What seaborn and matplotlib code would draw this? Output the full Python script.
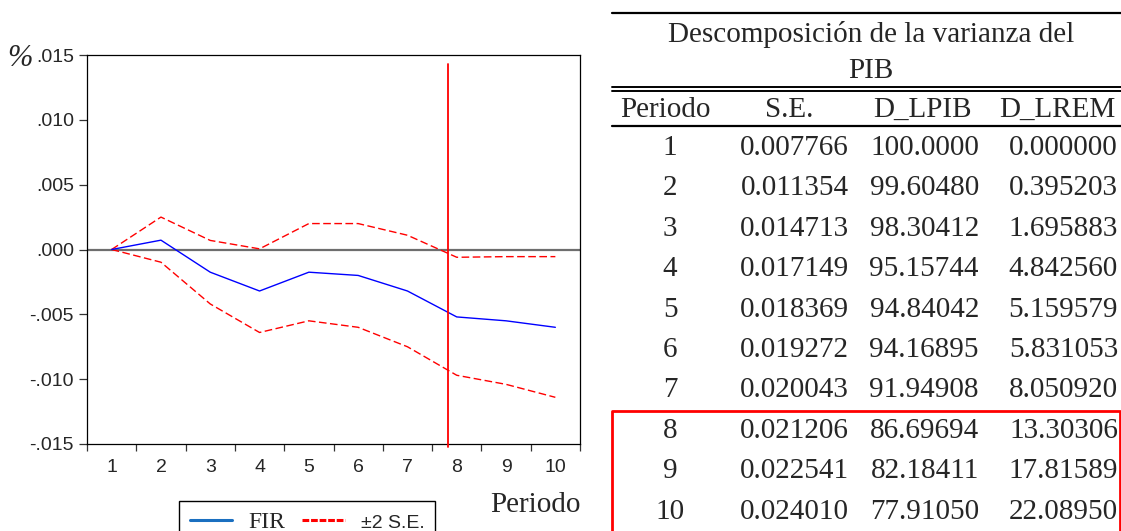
# libraries
import matplotlib
matplotlib.use("Agg")
import matplotlib.pyplot as plt
from matplotlib.lines import Line2D
import seaborn as sns
import numpy as np

# impulse response data
periodo = [1, 2, 3, 4, 5, 6, 7, 8, 9, 10]
fir = [0.0, 0.00072, -0.00175, -0.0032, -0.00175, -0.0020, -0.0032, -0.0052, -0.0055, -0.0060]
banda_sup = [0.0, 0.0025, 0.0007, 0.00005, 0.0020, 0.0020, 0.0011, -0.0006, -0.00055, -0.00055]
banda_inf = [0.0, -0.00098, -0.0042, -0.0064, -0.0055, -0.0060, -0.0075, -0.0097, -0.0104, -0.0114]
corte = 7.83
yticks = [-0.015, -0.010, -0.005, 0.0, 0.005, 0.010, 0.015]
ytick_labels = ["-.015", "-.010", "-.005", ".000", ".005", ".010", ".015"]

# variance decomposition table
titulo = ["Descomposición de la varianza del", "PIB"]
columnas = ["Periodo", "S.E.", "D_LPIB", "D_LREM"]
se = ["0.007766", "0.011354", "0.014713", "0.017149", "0.018369",
      "0.019272", "0.020043", "0.021206", "0.022541", "0.024010"]
d_lpib = ["100.0000", "99.60480", "98.30412", "95.15744", "94.84042",
          "94.16895", "91.94908", "86.69694", "82.18411", "77.91050"]
d_lrem = ["0.000000", "0.395203", "1.695883", "4.842560", "5.159579",
          "5.831053", "8.050920", "13.30306", "17.81589", "22.08950"]

sns.set_style("ticks")
serif = ["Liberation Serif", "DejaVu Serif"]
narrow = ["Liberation Sans Narrow", "Liberation Sans", "DejaVu Sans"]

W, H = 1121, 531
fig = plt.figure(figsize=(W / 100, H / 100), dpi=100)

def fx(px):
    return px / W

def fy(py):
    return 1 - py / H

# chart
ax = fig.add_axes([fx(87), fy(444), fx(580) - fx(87), fy(55) - fy(444)])
ax.axhline(0, color="#6e6e6e", lw=1.6, zorder=1)
sns.lineplot(x=periodo, y=banda_sup, ax=ax, color="#ff0000", lw=1.0, linestyle=(0, (5.5, 2.5)), legend=False)
sns.lineplot(x=periodo, y=banda_inf, ax=ax, color="#ff0000", lw=1.0, linestyle=(0, (5.5, 2.5)), legend=False)
sns.lineplot(x=periodo, y=fir, ax=ax, color="#0000ff", lw=1.0, legend=False)
ax.plot([corte, corte], [0.0143, -0.0152], color="#ff0000", lw=1.3, clip_on=False, zorder=5)

ax.set_xlim(0.5, 10.5)
ax.set_ylim(-0.015, 0.015)
ax.set_xticks(periodo)
ax.set_xticks(np.arange(0.5, 11, 1), minor=True)
ax.set_yticks(yticks)
ax.set_yticklabels(ytick_labels)
ax.tick_params(axis="x", which="major", length=0, pad=11)
ax.tick_params(axis="x", which="minor", length=5, width=0.9, direction="out", color="#333333")
ax.tick_params(axis="y", which="major", length=5.5, width=0.9, direction="out", pad=4, color="#333333")
for lab in ax.get_xticklabels() + ax.get_yticklabels():
    lab.set_family(narrow)
    lab.set_fontsize(14)
for s in ax.spines.values():
    s.set_color("black")
    s.set_linewidth(0.9)
ax.set_xlabel("")
ax.set_ylabel("")

fig.text(fx(20), fy(58), "%", family=serif, style="italic", fontsize=22, ha="center", va="center")
fig.text(fx(581), fy(505), "Periodo", family=serif, fontsize=21, ha="right", va="center")

# legend
handles = [Line2D([], [], color="#1a6fc0", lw=2.2),
           Line2D([], [], color="#ff0000", lw=2.2, linestyle=(0, (2.2, 0.6)))]
leg = ax.legend(handles, ["FIR", "±2 S.E."], ncol=2, loc="upper left",
                bbox_to_anchor=(fx(179), fy(501)), bbox_transform=fig.transFigure,
                borderaxespad=0, frameon=True, fancybox=False, edgecolor="black",
                framealpha=1, handlelength=1.8, handletextpad=0.7, columnspacing=0.7,
                borderpad=0.45, prop={"family": serif, "size": 17})
leg.get_frame().set_linewidth(1.0)
leg.get_texts()[1].set_family(narrow)
leg.get_texts()[1].set_fontsize(14)

# table
tsize = 21
for i, t in enumerate(titulo):
    fig.text(fx(871), fy(35 + 36 * i), t, family=serif, fontsize=tsize, ha="center", va="center")

def hline(y, x0, x1, lw, color="black"):
    fig.add_artist(Line2D([fx(x0), fx(x1)], [fy(y), fy(y)], color=color, lw=lw, transform=fig.transFigure))

hline(13, 612, 1121, 1.6)
hline(86.5, 612, 1121, 1.4)
hline(90.5, 612, 1121, 1.4)
hline(126, 612, 1121, 1.6)

head_x = [665, 789, 922, 1057]
for x, c in zip(head_x, columnas):
    fig.text(fx(x), fy(110), c, family=serif, fontsize=tsize, ha="center", va="center")

for i in range(len(periodo)):
    y = fy(148 + 40.4 * i)
    fig.text(fx(670), y, str(periodo[i]), family=serif, fontsize=tsize, ha="center", va="center")
    fig.text(fx(849), y, se[i], family=serif, fontsize=tsize, ha="right", va="center")
    fig.text(fx(979), y, d_lpib[i], family=serif, fontsize=tsize, ha="right", va="center")
    fig.text(fx(1118), y, d_lrem[i], family=serif, fontsize=tsize, ha="right", va="center")

# red box around periods 8-10
fig.add_artist(Line2D([fx(612), fx(612), fx(1120), fx(1120)], [fy(535), fy(411), fy(411), fy(535)],
                      color="#ff0000", lw=2.0, transform=fig.transFigure))

plt.savefig("out.png", dpi=100)
